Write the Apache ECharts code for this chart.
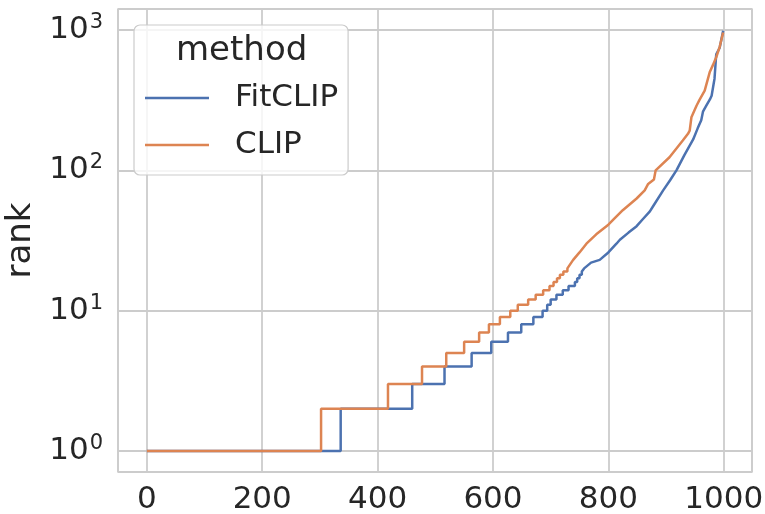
<!DOCTYPE html>
<html>
<head>
<meta charset="utf-8">
<script src="https://cdn.jsdelivr.net/npm/echarts@6/dist/echarts.min.js"></script>
<style>
  html, body { margin: 0; padding: 0; background: #fff; }
  #chart { width: 765px; height: 514px; }
</style>
</head>
<body>
<div id="chart"></div>
<script>
// values (x = sample index, rank on log scale)
var fitclipX = [0, 336, 336, 460, 460, 516, 516, 563, 563, 597, 597, 626, 626, 649, 649, 670, 670, 686, 686,
  694, 694, 700, 700, 710, 710, 721, 721, 731, 731, 742, 742, 746, 746, 750, 750, 754, 754, 758,
  770, 785, 800, 814, 820, 835, 849, 860, 872, 877, 895, 907, 918, 932, 947, 955, 961, 964, 970, 976, 979, 984, 987, 993, 999];
var fitclipRank = [1, 1, 2, 2, 3, 3, 4, 4, 5, 5, 6, 6, 7, 7, 8, 8, 9, 9, 10,
  10, 11, 11, 12, 12, 13, 13, 14, 14, 15, 15, 16, 16, 17, 17, 18, 18, 19, 20,
  22, 23, 26, 30, 32, 36, 40, 45, 51, 55, 72, 85, 100, 129, 166, 200, 228, 262, 290, 320, 340, 450, 672, 748, 990];

var clipX = [0, 302, 302, 418, 418, 477, 477, 519, 519, 550, 550, 576, 576, 593, 593, 612, 612, 630, 630,
  643, 643, 661, 661, 674, 674, 687, 687, 698, 698, 705, 705, 711, 711, 716, 716, 722, 722, 729, 729,
  739, 750, 762, 779, 800, 812, 825, 849, 863, 869, 879, 882, 906, 929, 938, 941, 944, 953, 958, 967, 976, 981, 987, 993, 999];
var clipRank = [1, 1, 2, 2, 3, 3, 4, 4, 5, 5, 6, 6, 7, 7, 8, 8, 9, 9, 10,
  10, 11, 11, 12, 12, 13, 13, 14, 14, 15, 15, 16, 16, 17, 17, 18, 18, 19, 19, 20,
  23, 26, 30, 35, 41, 46, 52, 63, 72, 80, 86, 100, 124, 163, 182, 192, 239, 290, 318, 370, 505, 560, 640, 760, 960];

var xTicks = [0, 200, 400, 600, 800, 1000];
var yTicks = [1, 10, 100, 1000];

function pairs(xs, ys) {
  var out = [];
  for (var i = 0; i < xs.length; i++) out.push([xs[i], ys[i]]);
  return out;
}

var chart = echarts.init(document.getElementById('chart'));
var font = 'DejaVu Sans';
var ink = '#262626';

chart.setOption({
  animation: false,
  textStyle: { fontFamily: font, color: ink },
  color: ['#4c72b0', '#dd8452'],
  grid: {
    left: 118, right: 13, top: 9, bottom: 42,
    outerBoundsMode: 'none',
    show: true, borderColor: '#cccccc', borderWidth: 1.5
  },
  title: {
    text: 'method',
    left: 176, top: 34, padding: 0,
    textStyle: { fontFamily: font, fontSize: 34, fontWeight: 'normal', color: ink }
  },
  legend: {
    left: 134, top: 25, orient: 'vertical',
    padding: [55, 10, 12, 11],
    icon: 'rect',
    itemWidth: 64, itemHeight: 2.5, itemGap: 11,
    backgroundColor: 'rgba(255,255,255,0.8)',
    borderColor: '#cccccc', borderWidth: 1.2, borderRadius: 6,
    textStyle: { fontFamily: font, fontSize: 31, lineHeight: 36, color: ink, padding: [0, 0, 0, 21] },
    data: ['FitCLIP', 'CLIP']
  },
  xAxis: {
    type: 'value',
    min: -50, max: 1049,
    axisLine: { show: false },
    axisTick: { show: false },
    splitLine: { lineStyle: { color: '#cccccc', width: 1.8 } },
    axisLabel: {
      showMinLabel: false, showMaxLabel: false,
      margin: 12, fontSize: 31, color: ink, fontFamily: font,
      formatter: function (v) { return xTicks.indexOf(v) >= 0 ? String(v) : ''; }
    }
  },
  yAxis: {
    type: 'log', logBase: 10,
    min: Math.pow(10, -0.15), max: Math.pow(10, 3.15),
    name: 'rank', nameLocation: 'middle', nameGap: 80, nameRotate: 90,
    nameTextStyle: { fontSize: 34, color: ink, fontFamily: font },
    axisLine: { show: false },
    axisTick: { show: false },
    minorTick: { show: false },
    splitLine: { lineStyle: { color: '#cccccc', width: 1.8 } },
    axisLabel: {
      showMinLabel: false, showMaxLabel: false,
      margin: 15, color: ink, fontFamily: font,
      formatter: function (v) {
        var e = Math.round(Math.log10(v));
        if (yTicks.indexOf(Math.pow(10, e)) < 0 || Math.abs(Math.log10(v) - e) > 0.01) return '';
        return '{b|10}{s|' + e + '}';
      },
      rich: {
        b: { fontSize: 31, color: ink, fontFamily: font },
        s: { fontSize: 21, color: ink, fontFamily: font, padding: [0, 0, 15, 1] }
      }
    }
  },
  series: [
    {
      name: 'FitCLIP', type: 'line', showSymbol: false, symbol: 'none',
      lineStyle: { width: 2.5 },
      data: pairs(fitclipX, fitclipRank)
    },
    {
      name: 'CLIP', type: 'line', showSymbol: false, symbol: 'none',
      lineStyle: { width: 2.5 },
      data: pairs(clipX, clipRank)
    }
  ]
});
</script>
</body>
</html>
